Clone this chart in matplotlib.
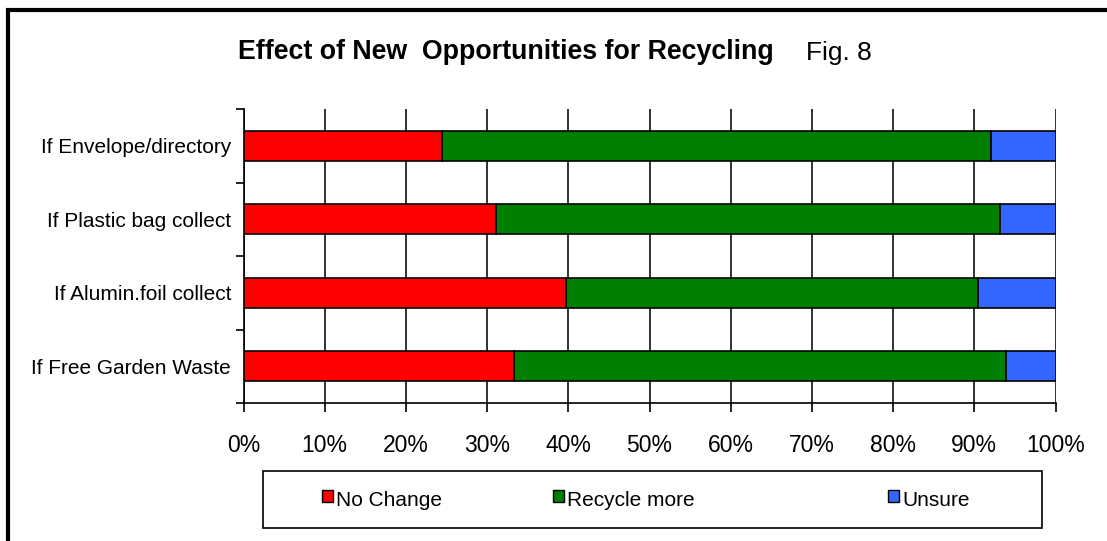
import matplotlib.pyplot as plt
from matplotlib.patches import Rectangle

plt.rcParams['font.family'] = ['Liberation Sans', 'DejaVu Sans']

# Share of answers (%) for each scenario
categories = ["If Envelope/directory", "If Plastic bag collect",
              "If Alumin.foil collect", "If Free Garden Waste"]
no_change = [24.4, 31.1, 39.7, 33.3]
recycle_more = [67.6, 62.1, 50.8, 60.6]
unsure = [8.0, 6.8, 9.5, 6.1]
series = ["No Change", "Recycle more", "Unsure"]
colors = ["#ff0000", "#008000", "#3366ff"]
xticks = list(range(0, 101, 10))

W, H = 1107, 541
fig = plt.figure(figsize=(W / 100, H / 100), dpi=100)

# outer frame (right and bottom edges run off the picture)
fig.add_artist(Rectangle((8 / W, -0.05), 1.1, 1.05 - 10 / H,
                         transform=fig.transFigure, fill=False,
                         edgecolor='black', linewidth=3, clip_on=False))

ax = fig.add_axes([243.5 / W, 1 - 403 / H, (1055.5 - 243.5) / W, (403 - 109) / H])

ypos = list(range(len(categories)))
left = [0] * len(categories)
for vals, name, col in zip([no_change, recycle_more, unsure], series, colors):
    ax.barh(ypos, vals, left=left, height=0.41, color=col, edgecolor='black',
            linewidth=1.2, label=name, zorder=3)
    left = [a + b for a, b in zip(left, vals)]

ax.set_xlim(0, 100)
ax.set_ylim(3.5, -0.5)
ax.set_xticks(xticks)
ax.set_xticklabels([f"{t}%" for t in xticks], fontsize=16.5)
ax.tick_params(axis='x', direction='out', length=6.5, width=1.2, pad=16)
ax.set_yticks([-0.5, 0.5, 1.5, 2.5, 3.5])
ax.set_yticklabels([])
ax.set_yticks(ypos, minor=True)
ax.set_yticklabels(categories, minor=True, fontsize=15)
ax.tick_params(axis='y', which='major', direction='out', length=6, width=1.2)
ax.tick_params(axis='y', which='minor', length=0, pad=9)
ax.grid(axis='x', color='#222222', linewidth=1.3, zorder=0)
for s in ['top', 'right']:
    ax.spines[s].set_visible(False)
for s in ['left', 'bottom']:
    ax.spines[s].set_linewidth(1.2)

fig.text(506 / W, 1 - 52 / H, "Effect of New  Opportunities for Recycling",
         ha='center', va='center', fontsize=19.3, fontweight='bold')
fig.text(806 / W, 1 - 53 / H, "Fig. 8", ha='left', va='center', fontsize=19)

# legend box drawn by hand so the entries sit where they do in the original
fig.add_artist(Rectangle((263 / W, 1 - 528 / H), (1042 - 263) / W, 57 / H,
                         transform=fig.transFigure, fill=False,
                         edgecolor='black', linewidth=1.2))
for name, col, x0 in zip(series, colors, [322, 553, 888]):
    fig.add_artist(Rectangle((x0 / W, 1 - 502 / H), 11 / W, 12 / H,
                             transform=fig.transFigure, facecolor=col,
                             edgecolor='black', linewidth=1))
    fig.text((x0 + 14) / W, 1 - 500 / H, name, ha='left', va='center',
             fontsize=15)

fig.savefig("out.png", dpi=100)
